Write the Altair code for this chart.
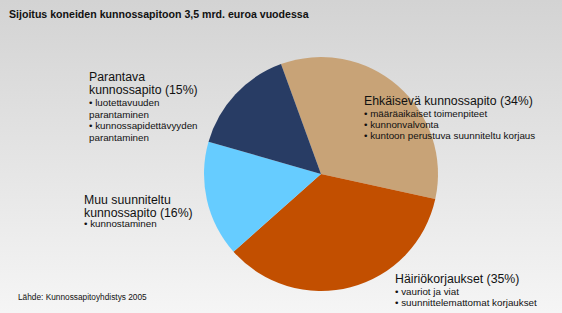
import math
import altair as alt
import pandas as pd

title_text = "Sijoitus koneiden kunnossapitoon 3,5 mrd. euroa vuodessa"
source_text = "Lähde: Kunnossapitoyhdistys 2005"

categories = ["Ehkäisevä kunnossapito", "Häiriökorjaukset",
              "Muu suunniteltu kunnossapito", "Parantava kunnossapito"]
shares = [34, 35, 16, 15]
colors = ["#c8a377", "#c24f00", "#66ccff", "#283c64"]

pie = pd.DataFrame({"category": categories, "share": shares, "order": range(len(shares))})

W, H = 562, 313
FONT = "Liberation Sans"
start = math.radians(-20)

bg = alt.Chart(alt.Data(values=[{}])).mark_rect(
    color=alt.Gradient(gradient="linear", x1=0, y1=0, x2=0, y2=1,
                       stops=[alt.GradientStop(color="#d3d3d3", offset=0),
                              alt.GradientStop(color="#f5f5f5", offset=1)])
).encode(x=alt.value(0), x2=alt.value(W), y=alt.value(0), y2=alt.value(H))

arcs = alt.Chart(pie).mark_arc(radius=117, stroke=None).encode(
    theta=alt.Theta("share:Q", stack=True,
                    scale=alt.Scale(type="linear", range=[start, start + 2 * math.pi])),
    color=alt.Color("category:N", scale=alt.Scale(domain=categories, range=colors), legend=None),
    order=alt.Order("order:Q"),
    x=alt.value(321), y=alt.value(174),
)

def txt(t, x, y, size, bold=False, lh=None):
    kw = dict(align="left", baseline="alphabetic", font=FONT, fontSize=size,
              color="#111111", fontWeight="bold" if bold else "normal")
    if lh:
        kw.update(lineBreak="\n", lineHeight=lh)
    return alt.Chart(alt.Data(values=[{}])).mark_text(**kw).encode(
        x=alt.value(x), y=alt.value(y), text=alt.value(t))

NB = "\u00a0\u00a0"
layers = [
    bg, arcs,
    txt(title_text, 9, 18, 10.6, bold=True),
    txt("Parantava\nkunnossapito (15%)", 89, 81, 12.3, lh=12.5),
    txt("• luotettavuuden\n" + NB + "parantaminen\n• kunnossapidettävyyden\n" + NB + "parantaminen",
        89, 106, 9.8, lh=11.5),
    txt("Muu suunniteltu\nkunnossapito (16%)", 84, 204, 12.3, lh=12.5),
    txt("• kunnostaminen", 84, 227, 9.8),
    txt("Ehkäisevä kunnossapito (34%)", 364, 105, 12.3),
    txt("• määräaikaiset toimenpiteet\n• kunnonvalvonta\n• kuntoon perustuva suunniteltu korjaus",
        364, 117, 9.8, lh=11),
    txt("Häiriökorjaukset (35%)", 395, 283, 12.3),
    txt("• vauriot ja viat\n• suunnittelemattomat korjaukset", 395, 295, 9.8, lh=10.5),
    txt(source_text, 18, 300, 8.3),
]

chart = alt.layer(*layers).properties(
    width=W, height=H, padding=0, autosize="none", background="#e6e6e6"
).configure_view(stroke=None)

chart.save("out.html", embed_options={"renderer": "svg", "actions": False})
